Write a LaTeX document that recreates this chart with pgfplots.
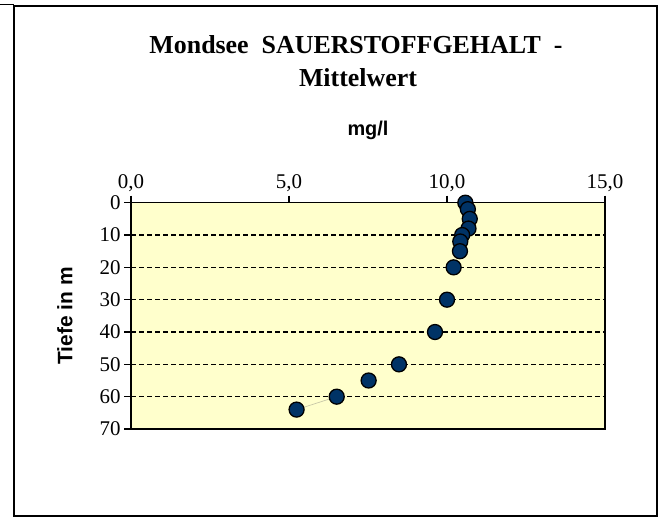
\documentclass[border=0pt]{standalone}
\usepackage{pgfplots}
\pgfplotsset{compat=1.18}
\usepackage{fontspec}
\setmainfont{Liberation Serif}
\newfontfamily\arial{Liberation Sans}
\definecolor{plotbg}{HTML}{FFFFCC}
\definecolor{navy}{HTML}{003366}
\definecolor{seg}{HTML}{C8C8A8}

% depth (m) vs. oxygen (mg/l)
\pgfplotstableread{
x     y
10.58 0
10.66 2
10.72 5
10.68 8
10.48 10
10.42 12
10.41 15
10.21 20
10.00 30
9.62  40
8.48  50
7.52  55
6.51  60
5.24  64
}\oxygen

\begin{document}
\begin{tikzpicture}[x=1bp,y=1bp]
\path[use as bounding box] (-131,-88) rectangle (528,429);
\draw[line width=1.5bp] (-117,-87) rectangle (526,423);
\draw[line width=1.5bp] (-131,424.5) -- (-117,424.5);
\begin{axis}[
  at={(0,0)}, anchor=south west,
  scale only axis, width=474bp, height=226.3bp,
  xmin=0, xmax=15, ymin=0, ymax=70,
  y dir=reverse,
  xtick={0,5,10,15}, ytick={0,10,...,70},
  xticklabel pos=upper, xtick pos=upper, ytick pos=left,
  tick align=outside, major tick length=7bp,
  tick style={black, line width=1.2bp},
  axis line style={line width=1.6bp},
  axis background/.style={fill=plotbg},
  ymajorgrids=true,
  grid style={black, line width=1.2bp, dash pattern=on 5bp off 3bp},
  /pgf/number format/assume math mode=true,
  xticklabel style={font=\fontsize{21}{25}\selectfont,
    /pgf/number format/.cd, fixed, fixed zerofill, precision=1, use comma},
  yticklabel style={font=\fontsize{21}{25}\selectfont},
  clip=false,
]
\addplot[seg, line width=0.7bp] coordinates {(6.51,60) (5.24,64)};
\addplot[only marks, mark=*, mark size=7.5bp,
  mark options={fill=navy, draw=black, line width=1.3bp}] table[x=x,y=y] {\oxygen};
\end{axis}
\node[anchor=base, font=\bfseries\fontsize{26}{31}\selectfont] at (225,375) {Mondsee\ \ SAUERSTOFFGEHALT\ \ -};
\node[anchor=base, font=\bfseries\fontsize{26}{31}\selectfont] at (227,342) {Mittelwert};
\node[anchor=base, font=\arial\bfseries\fontsize{20}{24}\selectfont] at (237,293) {mg/l};
\node[rotate=90, font=\arial\bfseries\fontsize{21}{25}\selectfont] at (-66,113) {Tiefe in m};
\end{tikzpicture}
\end{document}
